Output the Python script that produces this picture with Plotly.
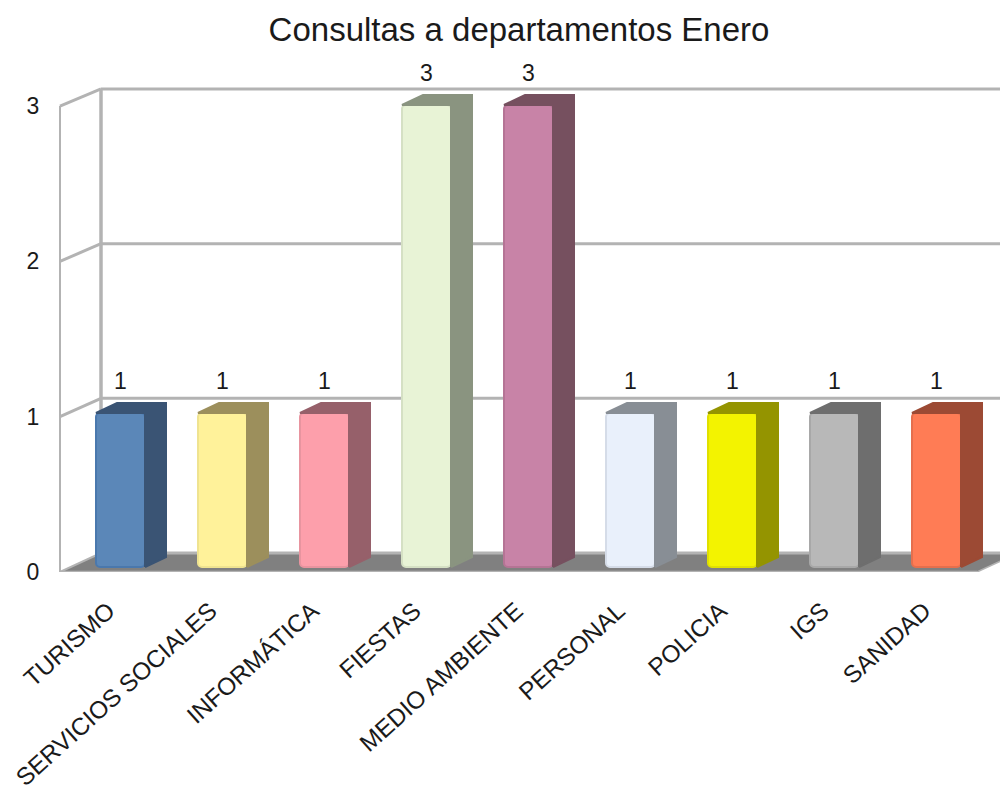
#!/usr/bin/env python3

import plotly.graph_objects as go

# data
departments = ['TURISMO', 'SERVICIOS SOCIALES', 'INFORMÁTICA', 'FIESTAS', 'MEDIO AMBIENTE',
               'PERSONAL', 'POLICIA', 'IGS', 'SANIDAD']
consultas = [1, 1, 1, 3, 3, 1, 1, 1, 1]
y_ticks = [0, 1, 2, 3]

front_colors = ['#5b87b8', '#fff29a', '#fd9fab', '#e8f3d6', '#c883a7',
                '#e9f0fb', '#f3f300', '#b8b8b8', '#ff7c55']
edge_colors = ['#4a78ad', '#efe390', '#e8949f', '#d5e0c4', '#b57495',
               '#d5dce8', '#e0e000', '#a8a8a8', '#e56f4d']
side_colors = ['#3a5474', '#9c8f5c', '#96606a', '#8a9480', '#76505f',
               '#888e95', '#949400', '#6e6e6e', '#9c4a34']

# the page body has an 8px margin, so the figure starts at (8, 8)
PAGE_MARGIN = 8
fig_width = 1008 - PAGE_MARGIN
fig_height = 791 - PAGE_MARGIN

# pixel sizes of the fake 3d box, turned into axis units below
PX_PER_CAT = 102.0
PX_PER_UNIT = 155.3
plot_left, plot_right = 48, 1008
plot_top, plot_bottom = 50, 572
first_center = 120.5

x_range = [(plot_left - first_center) / PX_PER_CAT, (plot_right - first_center) / PX_PER_CAT]
y_range = [0, (plot_bottom - plot_top) / PX_PER_UNIT]

box_left = (60 - first_center) / PX_PER_CAT
box_right = (977 - first_center) / PX_PER_CAT
wall_dx = 41 / PX_PER_CAT
wall_dy = 19 / PX_PER_UNIT
bar_dx = 21 / PX_PER_CAT
bar_dy = 10 / PX_PER_UNIT
bar_width = 49 / PX_PER_CAT
bar_base = 5 / PX_PER_UNIT
bar_scale = 154 / PX_PER_UNIT
label_shift = -12 / PX_PER_CAT

wall_color = '#b3b3b3'

fig = go.Figure()

# front of the bars
fig.add_bar(
    x=list(range(len(departments))),
    y=[v * bar_scale for v in consultas],
    base=bar_base,
    width=bar_width,
    marker=dict(color=front_colors, line=dict(color=edge_colors, width=2), cornerradius=4),
    hoverinfo='skip',
)

# side and top of the bars
for i, v in enumerate(consultas):
    x0 = i - bar_width / 2
    x1 = i + bar_width / 2
    top = bar_base + v * bar_scale
    fig.add_scatter(
        x=[x1, x1 + bar_dx, x1 + bar_dx, x0 + bar_dx, x0, x1, x1],
        y=[bar_base, bar_base + bar_dy, top + bar_dy, top + bar_dy, top, top, bar_base],
        mode='lines',
        fill='toself',
        fillcolor=side_colors[i],
        line=dict(color=side_colors[i], width=2),
        hoverinfo='skip',
    )

# value labels
fig.add_scatter(
    x=list(range(len(consultas))),
    y=[bar_base + v * bar_scale + 30 / PX_PER_UNIT for v in consultas],
    mode='text',
    text=[str(v) for v in consultas],
    textposition='middle center',
    textfont=dict(family='Liberation Sans', size=23, color='#1a1a1a'),
    cliponaxis=False,
    hoverinfo='skip',
)

# floor and walls go below the traces
shapes = []
back_left = box_left + wall_dx
shapes.append(dict(
    type='path', layer='below', xref='x', yref='y', line=dict(width=0), fillcolor='#808080',
    path='M {} 0 L {} 0 L {} {} L {} {} Z'.format(box_left, box_right, box_right + wall_dx, wall_dy,
                                                  back_left, wall_dy),
))
for t in y_ticks:
    shapes.append(dict(type='line', layer='below', xref='x', yref='y',
                       x0=box_left, y0=t, x1=back_left, y1=t + wall_dy - t * 0.004,
                       line=dict(color=wall_color, width=3 if t else 2)))
    shapes.append(dict(type='line', layer='below', xref='x', yref='y',
                       x0=back_left, y0=t + wall_dy - t * 0.004, x1=x_range[1], y1=t + wall_dy - t * 0.004,
                       line=dict(color=wall_color, width=3)))
shapes.append(dict(type='line', layer='below', xref='x', yref='y',
                   x0=box_left, y0=0, x1=box_left, y1=y_ticks[-1],
                   line=dict(color=wall_color, width=2)))
shapes.append(dict(type='line', layer='below', xref='x', yref='y',
                   x0=back_left, y0=wall_dy, x1=back_left, y1=y_ticks[-1] + wall_dy - y_ticks[-1] * 0.004,
                   line=dict(color=wall_color, width=3.5)))
shapes.append(dict(type='line', layer='below', xref='x', yref='y',
                   x0=box_left, y0=0, x1=box_right, y1=0,
                   line=dict(color=wall_color, width=2.5)))
shapes.append(dict(type='line', layer='below', xref='x', yref='y',
                   x0=box_right, y0=0, x1=box_right + wall_dx, y1=wall_dy,
                   line=dict(color=wall_color, width=1.5)))

fig.update_layout(
    width=fig_width,
    height=fig_height,
    margin=dict(l=plot_left - PAGE_MARGIN, r=1008 - plot_right, t=plot_top - PAGE_MARGIN,
                b=791 - plot_bottom, autoexpand=False),
    paper_bgcolor='white',
    plot_bgcolor='white',
    showlegend=False,
    shapes=shapes,
    font=dict(family='Liberation Sans', color='#1a1a1a'),
    title=dict(text='Consultas a departamentos Enero',
               x=(519 - PAGE_MARGIN) / fig_width, xanchor='center',
               y=1 - (29 - PAGE_MARGIN) / fig_height, yanchor='middle',
               font=dict(size=33, color='#1a1a1a')),
    xaxis=dict(
        range=x_range, tickmode='array',
        tickvals=[i + label_shift for i in range(len(departments))], ticktext=departments,
        tickangle=-42, tickfont=dict(size=24.3),
        ticks='outside', ticklen=14, tickcolor='rgba(0,0,0,0)',
        showgrid=False, zeroline=False, showline=False, automargin=False,
    ),
    yaxis=dict(
        range=y_range, tickmode='array', tickvals=y_ticks,
        tickfont=dict(size=23),
        ticks='outside', ticklen=3, tickcolor='rgba(0,0,0,0)',
        showgrid=False, zeroline=False, showline=False, automargin=False,
    ),
)

fig.write_html('out.html')
